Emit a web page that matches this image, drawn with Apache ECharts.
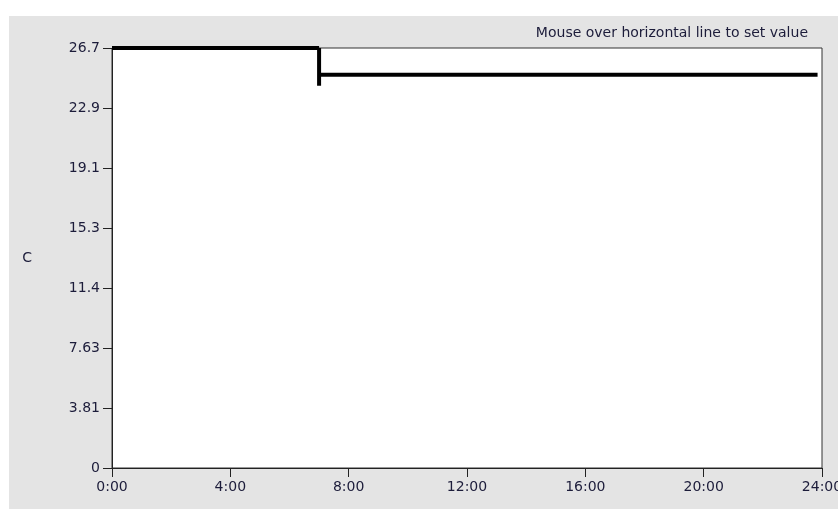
<!DOCTYPE html>
<html>
<head>
<meta charset="utf-8">
<script src="https://cdn.jsdelivr.net/npm/echarts@6/dist/echarts.min.js"></script>
<style>
  html, body { margin: 0; padding: 0; background: #fff; }
  #chart { width: 838px; height: 509px; }
</style>
</head>
<body>
<div id="chart"></div>
<script>
// setpoint schedule (hours, degrees C)
var firstSegment = [[0, 26.7], [7, 26.7]];
var secondSegment = [[7, 25.0], [23.85, 25.0]];
var handleSegment = [[7, 26.7], [7, 24.3]];

var yMax = 26.7;
var yLabels = ['0', '3.81', '7.63', '11.4', '15.3', '19.1', '22.9', '26.7'];
var xLabels = ['0:00', '4:00', '8:00', '12:00', '16:00', '20:00', '24:00'];

var textColor = '#1c1c3a';
var font = 'Tahoma, "DejaVu Sans", sans-serif';

var chart = echarts.init(document.getElementById('chart'));

var lineStyle = { color: '#000', width: 4, cap: 'butt' };

var option = {
    animation: false,
    backgroundColor: '#fff',
    graphic: [{
        type: 'rect',
        z: -10,
        shape: { x: 9, y: 16, width: 829, height: 493 },
        style: { fill: '#e4e4e4' }
    }],
    title: {
        text: 'Mouse over horizontal line to set value',
        right: 25,
        top: 21,
        textStyle: { fontSize: 14, fontWeight: 'normal', color: textColor, fontFamily: font }
    },
    grid: {
        left: 112,
        right: 16,
        top: 48,
        bottom: 41,
        show: true,
        backgroundColor: '#fff',
        borderColor: '#333',
        borderWidth: 1,
        containLabel: false,
        outerBoundsMode: 'none'
    },
    xAxis: {
        type: 'value',
        min: 0,
        max: 24,
        interval: 4,
        splitLine: { show: false },
        axisLine: { show: true, lineStyle: { color: '#222', width: 1 } },
        axisTick: { show: true, length: 9, lineStyle: { color: '#222' } },
        axisLabel: {
            margin: 12,
            fontSize: 14,
            color: textColor,
            fontFamily: font,
            showMaxLabel: true,
            formatter: function (v) {
                return xLabels[Math.round(v / 4)];
            }
        }
    },
    yAxis: {
        type: 'value',
        min: 0,
        max: yMax,
        interval: yMax / 7,
        name: 'C',
        nameLocation: 'middle',
        nameRotate: 0,
        nameGap: 80,
        nameTextStyle: { fontSize: 14, color: textColor, fontFamily: font, padding: [6, 0, 0, 0] },
        splitLine: { show: false },
        axisLine: { show: true, lineStyle: { color: '#222', width: 1 } },
        axisTick: { show: true, length: 9, lineStyle: { color: '#222' } },
        axisLabel: {
            margin: 12,
            fontSize: 14,
            color: textColor,
            fontFamily: font,
            showMaxLabel: true,
            formatter: function (v) {
                return yLabels[Math.round(v / (yMax / 7))];
            }
        }
    },
    series: [{
        type: 'line',
        data: firstSegment,
        symbol: 'none',
        lineStyle: lineStyle
    }, {
        type: 'line',
        data: secondSegment,
        symbol: 'none',
        lineStyle: lineStyle
    }, {
        type: 'line',
        data: handleSegment,
        symbol: 'none',
        lineStyle: lineStyle
    }]
};

chart.setOption(option);
</script>
</body>
</html>
